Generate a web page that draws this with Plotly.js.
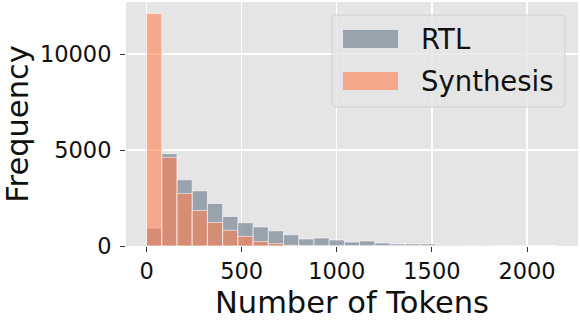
<!DOCTYPE html>
<html>
<head>
<meta charset="utf-8">
<script src="https://cdn.plot.ly/plotly-3.0.1.min.js"></script>
<style>
  html, body { margin: 0; padding: 0; background: white; }
  #chart { width: 580px; height: 320px; }
</style>
</head>
<body>
<div id="chart"></div>
<script>
// histogram bins, width 80 tokens
const binCenters = [40, 120, 200, 280, 360, 440, 520, 600, 680, 760, 840, 920, 1000, 1080,
  1160, 1240, 1320, 1400, 1480, 1560, 1640, 1720, 1800, 1880, 1960, 2040, 2120];
const rtlCounts = [925, 4807, 3448, 2874, 2215, 1535, 1210, 990, 790, 585, 366, 418, 313, 209,
  261, 157, 104, 104, 104, 55, 45, 42, 38, 35, 6, 4, 3];
const synthesisCounts = [12105, 4618, 2737, 1849, 1222, 820, 500, 235, 124, 30, 10, 0, 0, 0,
  0, 0, 0, 0, 0, 0, 0, 0, 0, 0, 0, 0, 0];
const seriesNames = ['RTL', 'Synthesis'];
const xTicks = [0, 500, 1000, 1500, 2000];
const yTicks = [0, 5000, 10000];

const BIN_WIDTH = 80;
const RTL_COLOR = 'rgba(112,128,144,0.65)';
const SYN_COLOR = 'rgba(255,127,80,0.6)';
const EDGE = { color: 'rgba(255,255,255,0.55)', width: 1 };

// plot area in pixels, used to place the hand drawn legend
const PLOT = { l: 126, r: 578, t: 2, b: 246 };
const px = (x) => (x - PLOT.l) / (PLOT.r - PLOT.l);
const py = (y) => (PLOT.b - y) / (PLOT.b - PLOT.t);

function roundedBox(x0, y0, x1, y1, r) {
  const p = (x, y) => `${px(x)},${py(y)}`;
  return `M${p(x0 + r, y0)} L${p(x1 - r, y0)} Q${p(x1, y0)} ${p(x1, y0 + r)} ` +
    `L${p(x1, y1 - r)} Q${p(x1, y1)} ${p(x1 - r, y1)} L${p(x0 + r, y1)} ` +
    `Q${p(x0, y1)} ${p(x0, y1 - r)} L${p(x0, y0 + r)} Q${p(x0, y0)} ${p(x0 + r, y0)} Z`;
}

function patch(y0, y1, color) {
  return {
    type: 'rect', xref: 'paper', yref: 'paper',
    x0: px(343), x1: px(398), y0: py(y1), y1: py(y0),
    fillcolor: color, line: { width: 0 },
  };
}

const traces = [
  {
    type: 'bar', name: seriesNames[0], x: binCenters, y: rtlCounts, width: BIN_WIDTH,
    marker: { color: RTL_COLOR, line: EDGE }, hoverinfo: 'x+y',
  },
  {
    type: 'bar', name: seriesNames[1], x: binCenters, y: synthesisCounts, width: BIN_WIDTH,
    marker: { color: SYN_COLOR, line: EDGE }, hoverinfo: 'x+y',
  },
];

const axisBase = {
  showgrid: true, gridcolor: 'white', gridwidth: 1.3,
  zeroline: false, showline: false,
  ticks: 'outside', ticklen: 5, tickwidth: 1, tickcolor: '#333',
  tickfont: { family: 'DejaVu Sans', size: 22.5, color: '#111' },
  tickmode: 'array', tickformat: 'd',
};

const layout = {
  width: 580, height: 320,
  margin: { l: PLOT.l, r: 580 - PLOT.r, t: PLOT.t, b: 320 - PLOT.b },
  paper_bgcolor: 'white', plot_bgcolor: '#e5e5e5',
  font: { family: 'DejaVu Sans', color: '#111' },
  barmode: 'overlay', bargap: 0, showlegend: false,
  xaxis: {
    ...axisBase, range: [-108, 2268], tickvals: xTicks,
    title: { text: 'Number of Tokens', font: { size: 30.5, color: '#111' }, standoff: 8 },
  },
  yaxis: {
    ...axisBase, range: [0, 12710], tickvals: yTicks, ticklabelstandoff: 4,
    title: { text: 'Frequency', font: { size: 30.5, color: '#111' }, standoff: 12 },
  },
  shapes: [
    {
      type: 'path', xref: 'paper', yref: 'paper', path: roundedBox(332, 15, 565, 107, 4),
      fillcolor: 'rgba(229,229,229,0.8)', line: { color: 'rgba(204,204,204,0.8)', width: 1 },
    },
    patch(30, 48, RTL_COLOR),
    patch(72, 90, SYN_COLOR),
  ],
  annotations: [
    { xref: 'paper', yref: 'paper', x: px(419), y: py(39), xanchor: 'left', yanchor: 'middle',
      text: seriesNames[0], showarrow: false, font: { size: 27.5, color: '#111' } },
    { xref: 'paper', yref: 'paper', x: px(419), y: py(81), xanchor: 'left', yanchor: 'middle',
      text: seriesNames[1], showarrow: false, font: { size: 27.5, color: '#111' } },
  ],
};

Plotly.newPlot('chart', traces, layout, { displayModeBar: false, staticPlot: true });
</script>
</body>
</html>
